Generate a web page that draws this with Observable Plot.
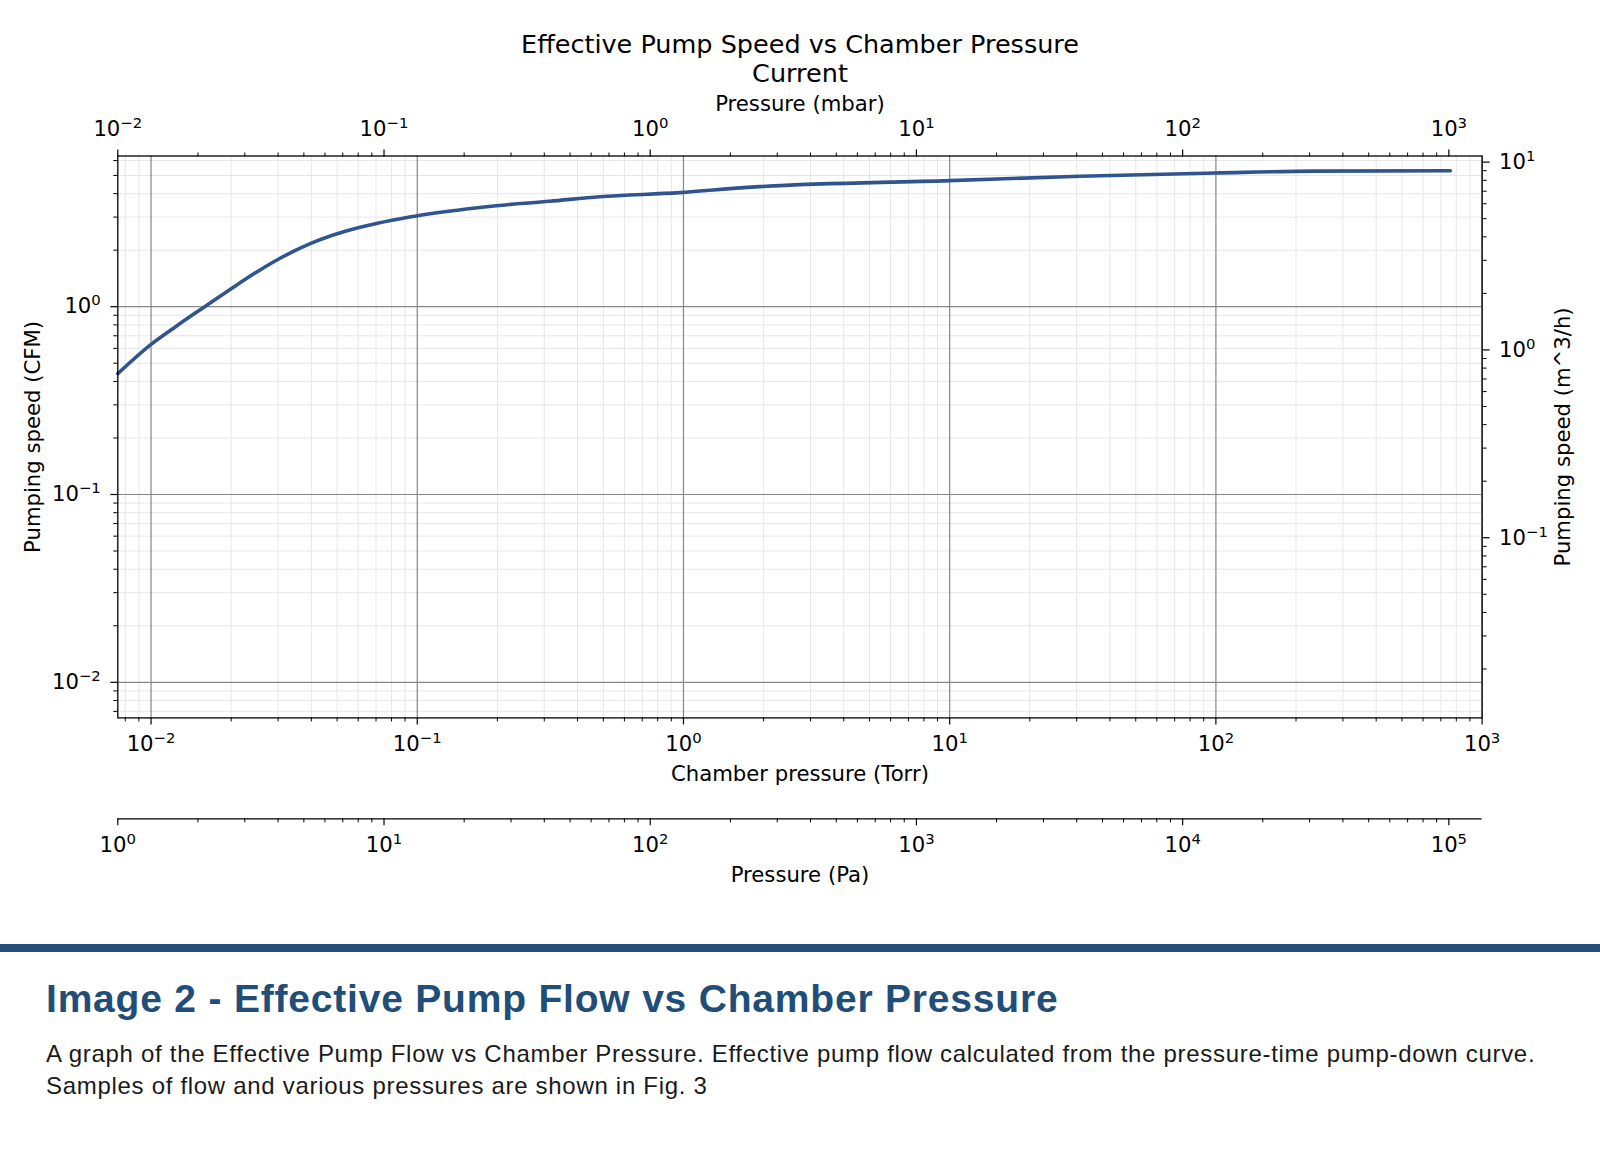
<!DOCTYPE html>
<html>
<head>
<meta charset="utf-8">
<script src="https://cdn.jsdelivr.net/npm/d3@7"></script>
<script src="https://cdn.jsdelivr.net/npm/@observablehq/plot@0.6"></script>
<style>
  html, body { margin: 0; padding: 0; background: #fff; }
  body { width: 1600px; height: 1163px; position: relative; overflow: hidden; }
  #title { position: absolute; left: 0; top: 30px; width: 1600px; text-align: center;
           font-family: "DejaVu Sans", sans-serif; font-size: 25.5px; line-height: 28.5px; color: #000; }
  #main { position: absolute; left: 0; top: 88px; }
  #pa { position: absolute; left: 0; top: 800px; }
  #rule { position: absolute; left: 0; top: 944px; width: 1600px; height: 8px; background: #234e7a; }
  #heading { position: absolute; left: 46px; top: 979px; font-family: "Liberation Sans", Arial, sans-serif;
             font-weight: bold; font-size: 39px; letter-spacing: 0.8px; line-height: 40px; color: #214d79; white-space: nowrap; }
  #caption { position: absolute; left: 46px; top: 1038px; width: 1540px; font-family: "Liberation Sans", Arial, sans-serif;
             font-size: 24px; letter-spacing: 0.7px; line-height: 32.4px; color: #1a1a1a; white-space: nowrap; }
</style>
</head>
<body>
<div id="title">Effective Pump Speed vs Chamber Pressure<br>Current</div>
<div id="main"></div>
<div id="pa"></div>
<div id="rule"></div>
<div id="heading">Image 2 - Effective Pump Flow vs Chamber Pressure</div>
<div id="caption">A graph of the Effective Pump Flow vs Chamber Pressure. Effective pump flow calculated from the pressure-time pump-down curve.<br>Samples of flow and various pressures are shown in Fig. 3</div>
<script>
// ---- data ----
const chamberPressureTorr = [0.0075, 0.01, 0.0124, 0.0159, 0.02, 0.0255, 0.0303, 0.0394, 0.0525, 0.0702, 0.0935,
                             0.153, 0.198, 0.314, 0.484, 0.968, 1.73, 10, 30.9, 100, 233, 760];
const pumpingSpeedCFM    = [0.44, 0.63, 0.785, 1.0, 1.247, 1.56, 1.80, 2.16, 2.50, 2.77, 3.0,
                             3.31, 3.45, 3.64, 3.85, 4.05, 4.32, 4.69, 4.95, 5.15, 5.27, 5.30];

// tick values (axis units)
const torrTicks = [1e-2, 1e-1, 1, 10, 100, 1000];
const mbarTicks = [1e-2, 1e-1, 1, 10, 100, 1000];
const paTicks   = [1, 10, 100, 1000, 10000, 100000];
const cfmTicks  = [1e-2, 1e-1, 1];
const m3hTicks  = [1e-1, 1, 10];
const decades   = [1e-3, 1e-2, 1e-1, 1, 10, 100, 1000, 10000];
const minorMultipliers = [2, 3, 4, 5, 6, 7, 8, 9];

// unit conversions
const TORR_TO_MBAR = 1.33322;
const TORR_TO_PA = 133.322;
const CFM_TO_M3H = 1.69901;

// scale domains
const torrDomain = [0.01 / TORR_TO_MBAR, 1000];
const cfmDomain = [0.006462, 6.345];

// ---- helpers ----
const SUP = {"-": "⁻", "0": "⁰", "1": "¹", "2": "²", "3": "³", "4": "⁴", "5": "⁵", "6": "⁶", "7": "⁷", "8": "⁸", "9": "⁹"};
const DESUP = {"⁻": "−", "⁰": "0", "¹": "1", "²": "2", "³": "3", "⁴": "4", "⁵": "5", "⁶": "6", "⁷": "7", "⁸": "8", "⁹": "9"};
const pow10 = v => "10" + String(Math.round(Math.log10(v))).split("").map(c => SUP[c]).join("");
const minorIn = (lo, hi) => decades.flatMap(d => minorMultipliers.map(m => m * d)).filter(v => v > lo * 1.0001 && v < hi * 0.9999);

const torrMinor = minorIn(torrDomain[0], torrDomain[1]);
const mbarMinor = minorIn(torrDomain[0] * TORR_TO_MBAR, torrDomain[1] * TORR_TO_MBAR);
const paMinor = minorIn(torrDomain[0] * TORR_TO_PA, torrDomain[1] * TORR_TO_PA);
const cfmMinor = minorIn(cfmDomain[0], cfmDomain[1]);
const m3hMinor = minorIn(cfmDomain[0] * CFM_TO_M3H, cfmDomain[1] * CFM_TO_M3H);

const curve = chamberPressureTorr.map((t, i) => ({torr: t, cfm: pumpingSpeedCFM[i]}));

// matplotlib-style raised exponents (10 + smaller superscript)
function raiseExponents(svg) {
  svg.querySelectorAll("text").forEach(t => {
    const m = /^10([⁻⁰¹²³⁴⁵⁶⁷⁸⁹]+)$/.exec(t.textContent);
    if (!m) return;
    const exp = [...m[1]].map(c => DESUP[c]).join("");
    t.textContent = "10";
    const ts = document.createElementNS("http://www.w3.org/2000/svg", "tspan");
    ts.setAttribute("dy", "-8");
    ts.style.fontSize = "70%";
    ts.textContent = exp;
    t.appendChild(ts);
  });
}

const W = 1600, ML = 117.3, MR = 118.4;
const MAIN_TOP = 88, MAIN_H = 702;
const style = {fontFamily: "DejaVu Sans, sans-serif", fontSize: "21.2px", background: "white", color: "black", overflow: "visible"};

const major = {stroke: "#868686", strokeOpacity: 1, strokeWidth: 1.2};
const minor = {stroke: "#e6e6e6", strokeOpacity: 1, strokeWidth: 1};

const mbarTickPos = mbarTicks.map(m => m / TORR_TO_MBAR);
const m3hTickPos = m3hTicks.map(m => m / CFM_TO_M3H);

const mainChart = Plot.plot({
  width: W, height: MAIN_H,
  marginLeft: ML, marginRight: MR,
  marginTop: 155.5 - MAIN_TOP, marginBottom: MAIN_TOP + MAIN_H - 717.4,
  style,
  x: {type: "log", domain: torrDomain},
  y: {type: "log", domain: cfmDomain},
  marks: [
    Plot.gridX(torrMinor, minor),
    Plot.gridY(cfmMinor, minor),
    Plot.gridX(torrTicks, major),
    Plot.gridY(cfmTicks, major),
    Plot.line(curve, {x: "torr", y: "cfm", stroke: "#30548f", strokeWidth: 3.6, curve: "monotone-x"}),
    Plot.frame({stroke: "black", strokeWidth: 1.3}),
    // bottom: Torr
    Plot.axisX(torrTicks, {anchor: "bottom", tickSize: 7, tickPadding: 10.6, strokeWidth: 1.2,
                text: d => pow10(d), label: "Chamber pressure (Torr)", labelAnchor: "center", labelOffset: 62.6, labelArrow: "none"}),
    Plot.axisX(torrMinor, {anchor: "bottom", tickSize: 4, strokeWidth: 1, fill: "none", label: null}),
    // top: mbar
    Plot.axisX(mbarTickPos, {anchor: "top", tickSize: 7, tickPadding: 13.5, strokeWidth: 1.2,
                text: t => pow10(t * TORR_TO_MBAR), label: "Pressure (mbar)", labelAnchor: "center", labelOffset: 60.5, labelArrow: "none"}),
    Plot.axisX(mbarMinor.map(m => m / TORR_TO_MBAR), {anchor: "top", tickSize: 4, strokeWidth: 1, fill: "none", label: null}),
    // left: CFM
    Plot.axisY(cfmTicks, {anchor: "left", tickSize: 7, tickPadding: 10, strokeWidth: 1.2,
                text: d => pow10(d), label: "Pumping speed (CFM)", labelAnchor: "center", labelOffset: 92.5, labelArrow: "none"}),
    Plot.axisY(cfmMinor, {anchor: "left", tickSize: 4, strokeWidth: 1, fill: "none", label: null}),
    // right: m^3/h
    Plot.axisY(m3hTickPos, {anchor: "right", tickSize: 7, tickPadding: 10, strokeWidth: 1.2,
                text: t => pow10(t * CFM_TO_M3H), label: "Pumping speed (m^3/h)", labelAnchor: "center", labelOffset: 87.7, labelArrow: "none"}),
    Plot.axisY(m3hMinor.map(m => m / CFM_TO_M3H), {anchor: "right", tickSize: 4, strokeWidth: 1, fill: "none", label: null})
  ]
});
raiseExponents(mainChart);
document.getElementById("main").appendChild(mainChart);

// secondary bottom axis: Pa
const paChart = Plot.plot({
  width: W, height: 100,
  marginLeft: ML, marginRight: MR, marginTop: 17.3, marginBottom: 81.7,
  style,
  x: {type: "log", domain: torrDomain.map(t => t * TORR_TO_PA)},
  y: {domain: [0, 1], axis: null},
  marks: [
    Plot.ruleY([0], {stroke: "black", strokeWidth: 1.3}),
    Plot.axisX(paTicks, {anchor: "bottom", tickSize: 7, tickPadding: 11.3, strokeWidth: 1.2,
                text: d => pow10(d), label: "Pressure (Pa)", labelAnchor: "center", labelOffset: 63.4, labelArrow: "none"}),
    Plot.axisX(paMinor, {anchor: "bottom", tickSize: 4, strokeWidth: 1, fill: "none", label: null})
  ]
});
raiseExponents(paChart);
document.getElementById("pa").appendChild(paChart);
</script>
</body>
</html>
